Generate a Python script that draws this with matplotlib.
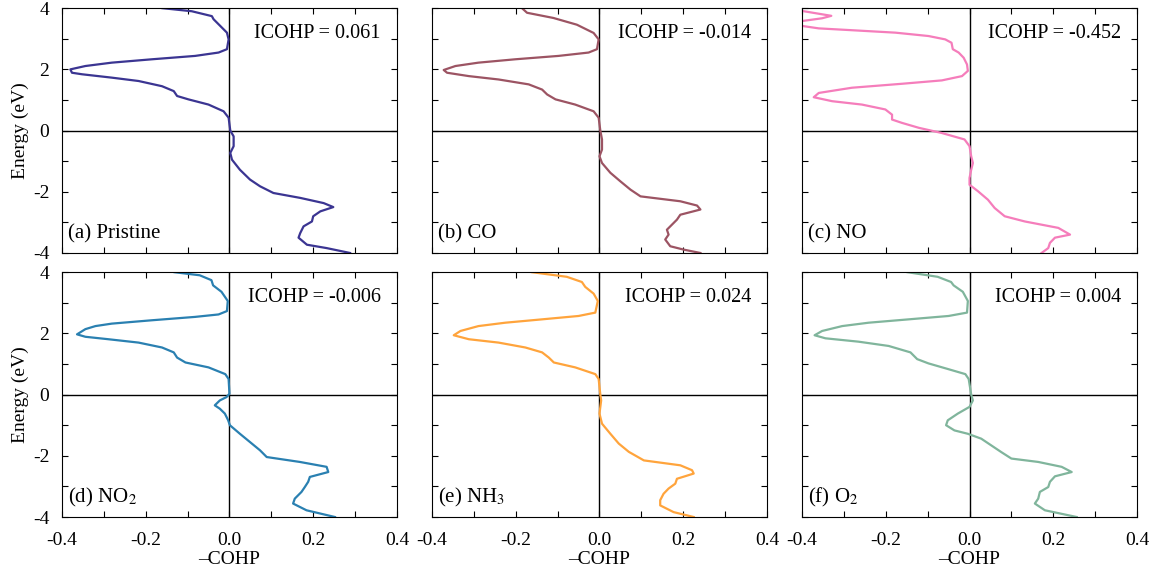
import numpy as np
import matplotlib
matplotlib.use("Agg")
import matplotlib.pyplot as plt
from matplotlib.ticker import MultipleLocator

plt.rcParams['font.family'] = ['Liberation Serif', 'DejaVu Serif']
plt.rcParams['axes.unicode_minus'] = False
plt.rcParams['mathtext.fontset'] = 'stix'

## -COHP curves (energy in eV, -COHP)
E_a = [4.0, 3.9, 3.74, 3.64, 3.42, 3.2, 2.98, 2.66, 2.55, 2.44, 2.33, 2.22, 2.11, 2.0, 1.89,
       1.84, 1.73, 1.62, 1.45, 1.29, 1.13, 1.02, 0.85, 0.63, 0.42, 0.0, -0.19, -0.51, -0.73,
       -0.95, -1.28, -1.6, -1.82, -2.04, -2.2, -2.37, -2.5, -2.64, -2.8, -2.97, -3.13, -3.35,
       -3.5, -3.73, -3.84, -4.0]
C_a = [-0.160, -0.09, -0.042, -0.038, -0.022, -0.006, -0.002, -0.006, -0.026, -0.082, -0.185,
       -0.281, -0.344, -0.38, -0.376, -0.352, -0.281, -0.217, -0.161, -0.133, -0.125, -0.098,
       -0.05, -0.014, -0.002, 0.002, 0.01, 0.01, 0.002, 0.006, 0.025, 0.049, 0.073, 0.105,
       0.169, 0.225, 0.248, 0.217, 0.20, 0.197, 0.177, 0.169, 0.165, 0.185, 0.232, 0.288]

E_b = [4.0, 3.85, 3.68, 3.46, 3.19, 2.98, 2.66, 2.55, 2.44, 2.33, 2.22, 2.11, 1.98, 1.89, 1.78,
       1.67, 1.51, 1.34, 1.18, 1.02, 0.85, 0.63, 0.42, 0.0, -0.29, -0.62, -0.84, -1.06, -1.38,
       -1.66, -1.93, -2.15, -2.31, -2.45, -2.58, -2.75, -2.91, -3.13, -3.24, -3.4, -3.56, -3.78,
       -3.89, -4.0]
C_b = [-0.185, -0.173, -0.11, -0.054, -0.014, -0.002, -0.006, -0.026, -0.098, -0.201, -0.289,
       -0.344, -0.372, -0.364, -0.312, -0.241, -0.169, -0.137, -0.125, -0.105, -0.058, -0.014,
       -0.002, 0.002, 0.006, 0.006, 0.0, 0.006, 0.026, 0.05, 0.074, 0.098, 0.193, 0.233, 0.241,
       0.193, 0.185, 0.169, 0.161, 0.165, 0.157, 0.169, 0.201, 0.241]

E_c = [4.0, 3.91, 3.80, 3.75, 3.67, 3.58, 3.5, 3.42, 3.34, 3.28, 3.2, 3.09, 2.98, 2.87, 2.66,
       2.55, 2.38, 2.16, 1.95, 1.78, 1.64, 1.53, 1.40, 1.23, 1.09, 0.96, 0.85, 0.69, 0.52, 0.36,
       0.25, 0.09, -0.08, -0.29, -0.51, -0.84, -1.06, -1.28, -1.55, -1.77, -1.98, -2.26, -2.53,
       -2.8, -2.97, -3.18, -3.4, -3.5, -3.67, -3.84, -4.0]
C_c = [-0.45, -0.40, -0.352, -0.33, -0.352, -0.40, -0.44, -0.40, -0.36, -0.281, -0.177, -0.098,
       -0.058, -0.043, -0.04, -0.026, -0.014, -0.006, -0.004, -0.018, -0.066, -0.161, -0.281,
       -0.36, -0.372, -0.328, -0.257, -0.201, -0.185, -0.185, -0.161, -0.121, -0.066, -0.012,
       0.0, 0.004, 0.008, 0.004, 0.0, 0.0, 0.02, 0.044, 0.06, 0.084, 0.132, 0.212, 0.24, 0.204,
       0.192, 0.188, 0.172]

E_d = [4.0, 3.9, 3.74, 3.57, 3.36, 3.06, 2.73, 2.62, 2.54, 2.43, 2.32, 2.24, 2.14, 1.97, 1.89,
       1.81, 1.70, 1.54, 1.38, 1.21, 1.05, 0.89, 0.67, 0.51, 0.03, -0.08, -0.19, -0.35, -0.46,
       -0.62, -0.84, -1.0, -1.28, -1.55, -1.82, -2.04, -2.2, -2.36, -2.53, -2.69, -2.85, -3.02,
       -3.18, -3.4, -3.56, -3.78, -4.0]
C_d = [-0.131, -0.071, -0.043, -0.039, -0.019, -0.004, -0.006, -0.026, -0.082, -0.185, -0.281,
       -0.32, -0.344, -0.364, -0.344, -0.289, -0.217, -0.161, -0.133, -0.125, -0.105, -0.05,
       -0.01, -0.002, 0.0, -0.007, -0.023, -0.035, -0.023, -0.011, -0.003, 0.001, 0.025, 0.049,
       0.073, 0.089, 0.168, 0.232, 0.236, 0.192, 0.188, 0.18, 0.172, 0.156, 0.152, 0.184, 0.252]

E_e = [4.0, 3.85, 3.68, 3.52, 3.3, 3.06, 2.68, 2.57, 2.46, 2.35, 2.24, 2.08, 1.94, 1.81, 1.70,
       1.54, 1.38, 1.21, 1.05, 0.89, 0.67, 0.51, 0.0, -0.19, -0.62, -0.95, -1.28, -1.6, -1.87,
       -2.15, -2.31, -2.47, -2.58, -2.75, -2.91, -3.07, -3.24, -3.45, -3.62, -3.84, -4.0]
C_e = [-0.161, -0.078, -0.042, -0.034, -0.014, -0.004, -0.01, -0.05, -0.137, -0.225, -0.289,
       -0.332, -0.348, -0.312, -0.241, -0.177, -0.137, -0.121, -0.109, -0.058, -0.01, -0.002,
       0.002, 0.004, 0.0, 0.006, 0.026, 0.046, 0.07, 0.106, 0.193, 0.221, 0.225, 0.185, 0.181,
       0.165, 0.153, 0.145, 0.145, 0.177, 0.225]

E_f = [4.0, 3.85, 3.68, 3.57, 3.36, 3.06, 2.68, 2.57, 2.46, 2.35, 2.24, 2.08, 1.94, 1.84, 1.73,
       1.59, 1.38, 1.16, 1.02, 0.83, 0.67, 0.51, 0.0, -0.19, -0.4, -0.62, -0.84, -1.0, -1.17,
       -1.28, -1.44, -1.66, -1.88, -2.09, -2.2, -2.36, -2.53, -2.67, -2.85, -3.02, -3.18, -3.4,
       -3.56, -3.78, -4.0]
C_f = [-0.148, -0.076, -0.044, -0.038, -0.016, -0.004, -0.006, -0.05, -0.145, -0.241, -0.304,
       -0.352, -0.37, -0.344, -0.265, -0.193, -0.141, -0.125, -0.098, -0.05, -0.01, -0.002,
       0.004, 0.008, 0.0, -0.028, -0.052, -0.056, -0.036, -0.004, 0.028, 0.052, 0.076, 0.1,
       0.164, 0.22, 0.244, 0.204, 0.192, 0.188, 0.168, 0.164, 0.156, 0.18, 0.256]

energies = [E_a, E_b, E_c, E_d, E_e, E_f]
cohps = [C_a, C_b, C_c, C_d, C_e, C_f]
labels = ["(a) Pristine", "(b) CO", "(c) NO", r"(d) NO$_2$", r"(e) NH$_3$", r"(f) O$_2$"]
icohp = ["0.061", "-0.014", "-0.452", "-0.006", "0.024", "0.004"]
colors = ["#3b3592", "#9c5463", "#f57dbb", "#2a80b1", "#ffa43c", "#80b59c"]

fig = plt.figure(figsize=(11.6, 5.76), dpi=100)
lefts = [0.0534, 0.3724, 0.6914]
bottoms = [0.5608, 0.1024]
w, h = 0.2888, 0.4250

for i in range(6):
    r, c = divmod(i, 3)
    ax = fig.add_axes([lefts[c], bottoms[r], w, h])
    ax.axhline(0, color='k', lw=1.0)
    ax.axvline(0, color='k', lw=1.0)
    ax.plot(cohps[i], energies[i], color=colors[i], lw=1.6, solid_joinstyle='round')
    ax.set_xlim(-0.4, 0.4)
    ax.set_ylim(-4, 4)
    ax.xaxis.set_major_locator(MultipleLocator(0.2))
    ax.xaxis.set_minor_locator(MultipleLocator(0.1))
    ax.yaxis.set_major_locator(MultipleLocator(2))
    ax.yaxis.set_minor_locator(MultipleLocator(1))
    ax.tick_params(which='both', direction='in', top=True, right=True, length=4, width=0.8,
                   labelsize=14)
    ax.tick_params(axis='x', pad=11)
    ax.tick_params(axis='y', pad=9)
    ax.xaxis.set_major_formatter(plt.FuncFormatter(lambda v, p: "%.1f" % v))
    ax.yaxis.set_major_formatter(plt.FuncFormatter(lambda v, p: "%d" % round(v)))
    if c != 0:
        ax.tick_params(labelleft=False)
    else:
        ax.set_ylabel("Energy (eV)", fontsize=14, labelpad=3)
    if r == 0:
        ax.tick_params(labelbottom=False)
    else:
        ax.set_xlabel("\u2013COHP", fontsize=14, labelpad=1)
    ax.text(0.952, 0.895, "ICOHP = " + icohp[i], transform=ax.transAxes,
            ha='right', va='center', fontsize=14.5)
    ax.text(0.018, 0.08, labels[i], transform=ax.transAxes,
            ha='left', va='center', fontsize=15)

fig.savefig("out.png", dpi=100)
